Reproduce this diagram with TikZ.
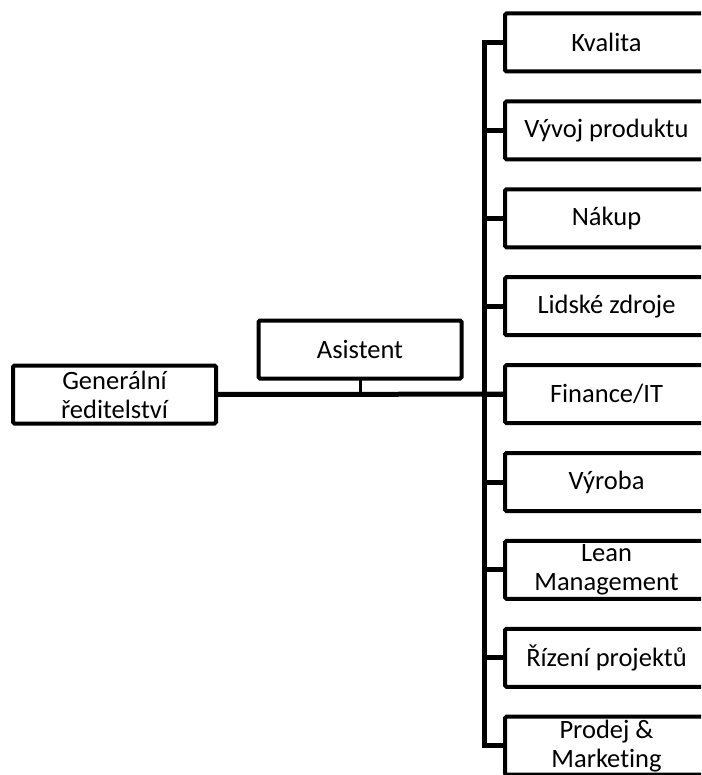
\documentclass[tikz,border=0pt]{standalone}
\usepackage{fontspec}
\setmainfont{Carlito}[Ligatures={NoCommon}]
\begin{document}
\begin{tikzpicture}[x=1pt,y=-1pt,
  box/.style={draw,line width=4pt,rounded corners=1.5pt,minimum width=203pt,minimum height=58pt,
    align=center,font=\fontsize{26.5}{29}\selectfont,inner sep=0pt,outer sep=0pt},
  conn/.style={line width=5pt,line join=miter},
  stub/.style={line width=3pt}]
\useasboundingbox (0,0) rectangle (701,775);
\clip (0,0) rectangle (701,775);
\node[box] (gen) at (114.5,394.5) {Generální\\ředitelství};
\node[box] (asis) at (360,349.5) {Asistent};
\foreach \t [count=\i] in {Kvalita,Vývoj produktu,Nákup,Lidské zdroje,Finance/IT,Výroba,{Lean\\Management},Řízení projektů,{Prodej \&\\Marketing}}{
  \node[box] (b\i) at (606.5,{42.5+87.9*(\i-1)}) {\t};
}
\draw[conn] (b1.west) -- ++(-21,0) |- (b9.west);
\foreach \i in {2,...,8}{
  \draw[conn] (b\i.west) -- ++(-21,0);
}
\draw[conn] (gen.east) -- (b5.west);
\draw[stub] (asis.south) -- (asis.south |- gen.east);
\end{tikzpicture}
\end{document}
